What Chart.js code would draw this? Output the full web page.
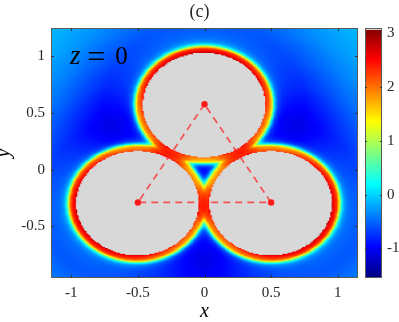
<!DOCTYPE html>
<html>
<head>
<meta charset="utf-8">
<script src="https://cdn.jsdelivr.net/npm/chart.js@4.4.1/dist/chart.umd.min.js"></script>
<style>
  html, body { margin: 0; padding: 0; background: #fff; }
  #wrap { width: 399px; height: 322px; }
</style>
</head>
<body>
<div id="wrap"><canvas id="chart" width="399" height="322"></canvas></div>
<script>
// Circle centres (corners of the dashed triangle) and radii
const centerX = [0, -0.5, 0.5];
const centerY = [0.5774, -0.2887, -0.2887];
const circleRadius = [0.46, 0.46, 0.46];

// Contribution of one circle vs distance from its surface
const profileDist = [0, 0.01, 0.02, 0.03, 0.04, 0.05, 0.06, 0.07, 0.08, 0.09, 0.10, 0.12, 0.14, 0.17, 0.20, 0.25, 0.30, 0.40, 0.50, 0.60, 0.80, 1.00, 1.30, 2.00];
const profileVal  = [2.95, 2.75, 2.6, 2.5, 2.3, 1.8, 1.1, 0.5, 0.15, -0.08, -0.2, -0.32, -0.39, -0.43, -0.46, -0.5, -0.5, -0.42, -0.33, -0.24, -0.12, -0.05, -0.02, 0];

// Axes
const xTicks = [-1, -0.5, 0, 0.5, 1];
const yTicks = [-0.5, 0, 0.5, 1];
const cbarTicks = [-1, 0, 1, 2, 3];
const xRange = [-1.152, 1.152];
const yRange = [-0.955, 1.25];
const cRange = [-1.55, 3.1];
const gridStep = 0.01;

const serif = "'Liberation Serif', 'DejaVu Serif', serif";
const textColor = '#262626';
const greyFill = '#d8d8d8';

function jet(v) {
  let t = (v - cRange[0]) / (cRange[1] - cRange[0]);
  t = Math.min(1, Math.max(0, t));
  const c = k => Math.round(255 * Math.min(1, Math.max(0, 1.5 - Math.abs(4 * t - k))));
  return 'rgb(' + c(3) + ',' + c(2) + ',' + c(1) + ')';
}

function profile(d) {
  const n = profileDist.length;
  if (d >= profileDist[n - 1]) return profileVal[n - 1];
  for (let k = 1; k < n; k++) {
    if (d <= profileDist[k]) {
      const f = (d - profileDist[k - 1]) / (profileDist[k] - profileDist[k - 1]);
      return profileVal[k - 1] + f * (profileVal[k] - profileVal[k - 1]);
    }
  }
  return 0;
}

// Build the cells of the field: positive parts merge, negative parts add up
const cells = [];
const cellColors = [];
for (let y = yRange[0] + gridStep / 2; y < yRange[1]; y += gridStep) {
  for (let x = xRange[0] + gridStep / 2; x < xRange[1]; x += gridStep) {
    let inside = false, keep = 1, neg = 0;
    for (let i = 0; i < centerX.length; i++) {
      const d = Math.hypot(x - centerX[i], y - centerY[i]) - circleRadius[i];
      if (d < 0) inside = true;
      const g = profile(Math.max(d, 0));
      if (g > 0) keep *= 1 - g / 3; else neg += g;
    }
    const v = 3 * (1 - keep) + neg;
    cells.push({x: x, y: y});
    cellColors.push(inside ? greyFill : jet(v));
  }
}

// Triangle through the centres, closed
const triangle = centerX.map((x, i) => ({x: x, y: centerY[i]}));
triangle.push({x: centerX[0], y: centerY[0]});

const decor = {
  id: 'decor',
  afterDatasetsDraw(chart) {
    const {ctx, chartArea: a, scales} = chart;
    const sx = scales.x, sy = scales.y, sc = scales.cbar;
    ctx.save();

    // "z = 0" label
    ctx.fillStyle = '#000';
    ctx.textBaseline = 'alphabetic';
    ctx.textAlign = 'center';
    const by = sy.getPixelForValue(0.932);
    ctx.font = 'italic 27px ' + serif;
    ctx.fillText('z', sx.getPixelForValue(-0.97), by);
    ctx.font = '32px ' + serif;
    ctx.fillText('=', sx.getPixelForValue(-0.813), by + 3);
    ctx.font = '25px ' + serif;
    ctx.fillText('0', sx.getPixelForValue(-0.623), by);

    // axes box and inside ticks
    ctx.strokeStyle = '#5a5a5a';
    ctx.lineWidth = 1;
    ctx.strokeRect(a.left + 0.5, a.top + 0.5, a.width - 1, a.height - 1);
    ctx.strokeStyle = '#333';
    ctx.beginPath();
    xTicks.forEach(v => {
      const px = Math.round(sx.getPixelForValue(v)) + 0.5;
      ctx.moveTo(px, a.top); ctx.lineTo(px, a.top + 3);
      ctx.moveTo(px, a.bottom); ctx.lineTo(px, a.bottom - 3);
    });
    yTicks.forEach(v => {
      const py = Math.round(sy.getPixelForValue(v)) + 0.5;
      ctx.moveTo(a.left, py); ctx.lineTo(a.left + 3, py);
      ctx.moveTo(a.right, py); ctx.lineTo(a.right - 3, py);
    });
    ctx.stroke();

    // colorbar
    const bx0 = a.right + 7, bx1 = a.right + 24;
    for (let py = Math.floor(sc.top); py < Math.ceil(sc.bottom); py++) {
      const v = sc.getValueForPixel(py + 0.5);
      ctx.fillStyle = v > 3.06 ? greyFill : jet(v);
      ctx.fillRect(bx0, py, bx1 - bx0, 1);
    }
    ctx.strokeStyle = '#5a5a5a';
    ctx.strokeRect(bx0 + 0.5, sc.top + 0.5, bx1 - bx0 - 1, sc.bottom - sc.top - 1);
    ctx.strokeStyle = '#333';
    ctx.beginPath();
    cbarTicks.forEach(v => {
      const py = Math.round(sc.getPixelForValue(v)) + 0.5;
      ctx.moveTo(bx0, py); ctx.lineTo(bx0 + 2, py);
      ctx.moveTo(bx1, py); ctx.lineTo(bx1 - 2, py);
    });
    ctx.stroke();
    ctx.restore();
  }
};

function fixedTicks(list) {
  return function (scale) { scale.ticks = list.map(v => ({value: v})); };
}

// fixed axis sizes, no extra room for overhanging labels
function fixedSize(w, h) {
  return function (s) {
    if (w) s.width = w;
    if (h) s.height = h;
    s.paddingTop = 0; s.paddingBottom = 0; s.paddingLeft = 0; s.paddingRight = 0;
  };
}

new Chart(document.getElementById('chart'), {
  type: 'scatter',
  data: {
    datasets: [
      {
        label: 'field',
        data: cells,
        order: 2,
        pointStyle: 'rect',
        pointRadius: 1.7,
        pointBorderWidth: 0,
        pointBackgroundColor: cellColors,
        clip: 0
      },
      {
        type: 'line',
        label: 'triangle',
        data: triangle,
        order: 1,
        borderColor: 'rgba(255, 30, 30, 0.72)',
        borderWidth: 1.7,
        borderDash: [7, 5],
        fill: false,
        tension: 0,
        pointRadius: [3.2, 3.2, 3.2, 0],
        pointBorderWidth: 0,
        pointBackgroundColor: '#ff1a1a'
      }
    ]
  },
  options: {
    responsive: false,
    devicePixelRatio: 1,
    animation: false,
    events: [],
    layout: { padding: 0 },
    plugins: {
      legend: { display: false },
      tooltip: { enabled: false },
      title: {
        display: true,
        text: '(c)',
        color: textColor,
        font: { family: serif, size: 18, weight: 'normal', lineHeight: 1 },
        padding: { top: 3, bottom: 7 }
      }
    },
    scales: {
      x: {
        type: 'linear',
        position: 'bottom',
        min: xRange[0],
        max: xRange[1],
        afterBuildTicks: fixedTicks(xTicks),
        afterFit: fixedSize(0, 44),
        grid: { display: false, drawTicks: false },
        border: { display: false },
        ticks: {
          padding: 6,
          color: textColor,
          maxRotation: 0,
          autoSkip: false,
          font: { family: serif, size: 15 },
          callback: v => String(v)
        },
        title: {
          display: true,
          text: 'x',
          color: '#000',
          font: { family: serif, size: 20, style: 'italic', lineHeight: 1 },
          padding: { top: 0, bottom: 0 }
        }
      },
      y: {
        type: 'linear',
        position: 'left',
        min: yRange[0],
        max: yRange[1],
        afterBuildTicks: fixedTicks(yTicks),
        afterFit: fixedSize(51, 0),
        grid: { display: false, drawTicks: false },
        border: { display: false },
        ticks: {
          padding: 6,
          color: textColor,
          autoSkip: false,
          font: { family: serif, size: 15 },
          callback: v => String(v)
        },
        title: {
          display: true,
          text: 'y',
          color: '#000',
          font: { family: serif, size: 20, style: 'italic', lineHeight: 0.3 },
          padding: { top: 1, bottom: 0 }
        }
      },
      cbar: {
        type: 'linear',
        axis: 'y',
        position: 'right',
        min: cRange[0],
        max: cRange[1],
        afterBuildTicks: fixedTicks(cbarTicks),
        afterFit: fixedSize(41, 0),
        grid: { display: false, drawTicks: false },
        border: { display: false },
        ticks: {
          padding: 29,
          color: textColor,
          autoSkip: false,
          font: { family: serif, size: 15 },
          callback: v => String(v)
        }
      }
    }
  },
  plugins: [decor]
});
</script>
</body>
</html>
